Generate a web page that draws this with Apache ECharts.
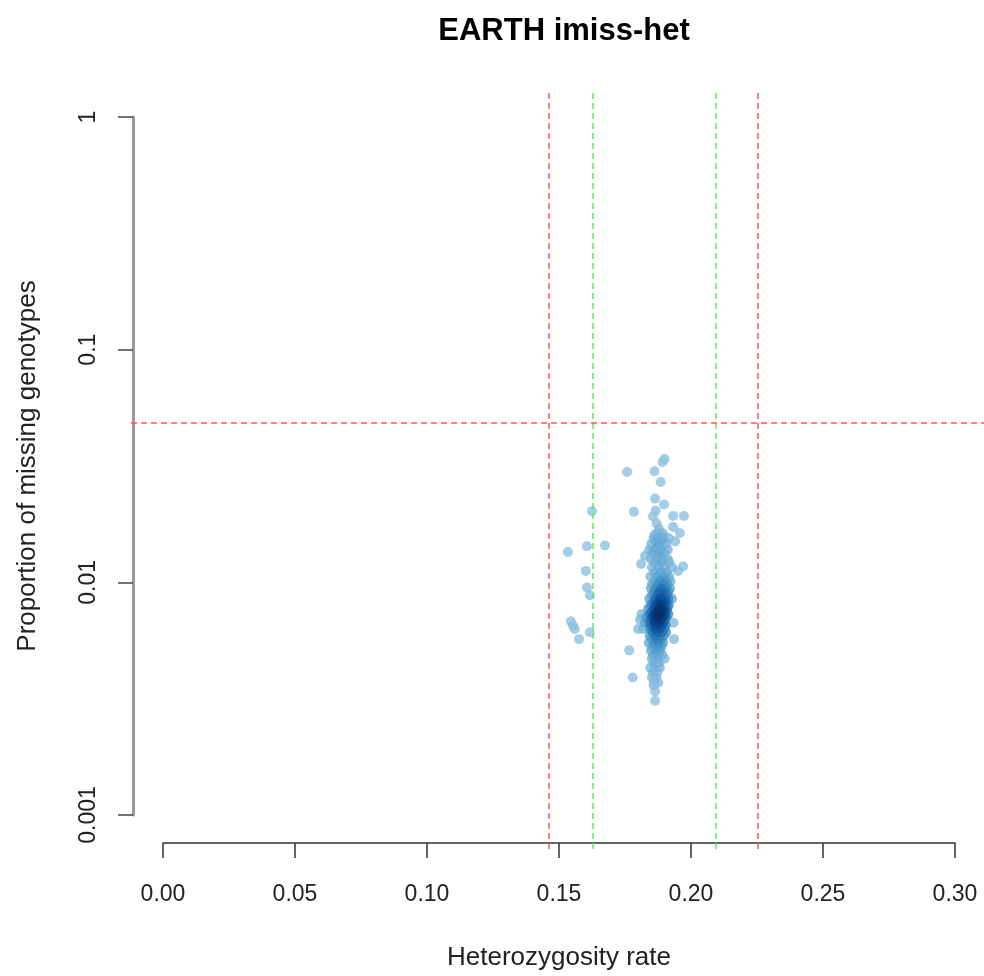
<!DOCTYPE html>
<html><head><meta charset="utf-8">
<script src="https://cdn.jsdelivr.net/npm/echarts@6/dist/echarts.min.js"></script>
<style>html,body{margin:0;padding:0;background:#fff}#c{width:984px;height:976px}</style>
</head><body><div id="c"></div>
<script>
// ---- data ----
const chartTitle = 'EARTH imiss-het';
const xName = 'Heterozygosity rate';
const yName = 'Proportion of missing genotypes';
const xTicks = [0, 0.05, 0.10, 0.15, 0.20, 0.25, 0.30];
const yTicks = [0.001, 0.01, 0.1, 1];
const hetRed = [0.1462, 0.2254];     // red vertical thresholds
const hetGreen = [0.1629, 0.2095];   // green vertical thresholds
const missRed = [0.05];              // red horizontal threshold
// samples: [heterozygosity rate, proportion missing]
const samples = [
 [0.1625,0.0202],[0.1606,0.0143],[0.1674,0.0144],[0.1534,0.0135],[0.1602,0.0112],[0.1606,0.0095],
 [0.1617,0.0088],[0.1545,0.0068],[0.1553,0.0065],[0.1560,0.0063],[0.1576,0.0057],[0.1617,0.0061],
 [0.1758,0.0298],[0.1784,0.0201],[0.1766,0.0051],[0.1779,0.0039],[0.1800,0.0063],[0.1807,0.0069],
 [0.1813,0.0073],[0.1826,0.0130],[0.1811,0.0120],[0.1973,0.0193],[0.1970,0.0117],[0.1951,0.0112],
 [0.1958,0.0163],[0.1933,0.0067],[0.1936,0.0057],
 [0.1900,0.0339],[0.1892,0.0329],[0.1862,0.0300],[0.1885,0.0270],[0.1864,0.0229],[0.1898,0.0216],
 [0.1866,0.0203],[0.1856,0.0192],[0.1932,0.0193],[0.1870,0.0179],[0.1878,0.0170],[0.1932,0.0173],
 [0.1875,0.0163],[0.1894,0.0162],[0.1862,0.0160],
 [0.1858,0.0155],[0.1876,0.0155],[0.1894,0.0155],[0.1915,0.0155],
 [0.1866,0.0150],[0.1888,0.0150],[0.1940,0.0150],
 [0.1850,0.0146],[0.1874,0.0146],[0.1905,0.0146],
 [0.1842,0.0138],[0.1862,0.0138],[0.1884,0.0138],[0.1912,0.0138],
 [0.1856,0.0134],[0.1878,0.0134],[0.1898,0.0134],
 [0.1848,0.0126],[0.1870,0.0126],[0.1892,0.0126],[0.1912,0.0126],
 [0.1862,0.0122],[0.1886,0.0122],[0.1918,0.0122],
 [0.1852,0.0116],[0.1876,0.0116],[0.1898,0.0116],[0.1928,0.0116],
 [0.1862,0.0110],[0.1888,0.0110],[0.1908,0.0110],
 [0.1846,0.0106],[0.1872,0.0106],[0.1896,0.0106],[0.1916,0.0106],
 [0.1862,0.0101],[0.1884,0.0101],[0.1902,0.0101],[0.1922,0.0101],
 [0.1852,0.0098],[0.1876,0.0098],[0.1894,0.0098],[0.1910,0.0098],
 [0.1848,0.0094],[0.1868,0.0094],[0.1888,0.0094],[0.1904,0.0094],[0.1920,0.0094],
 [0.1862,0.0091],[0.1882,0.0091],[0.1898,0.0091],[0.1914,0.0091],
 [0.1852,0.0088],[0.1874,0.0088],[0.1892,0.0088],[0.1908,0.0088],
 [0.1842,0.0085],[0.1866,0.0085],[0.1884,0.0085],[0.1900,0.0085],[0.1914,0.0085],[0.1928,0.0085],
 [0.1858,0.0082],[0.1878,0.0082],[0.1894,0.0082],[0.1908,0.0082],
 [0.1848,0.0080],[0.1868,0.0080],[0.1886,0.0080],[0.1900,0.0080],[0.1916,0.0080],
 [0.1838,0.0077],[0.1860,0.0077],[0.1880,0.0077],[0.1896,0.0077],[0.1910,0.0077],
 [0.1852,0.0075],[0.1872,0.0075],[0.1890,0.0075],[0.1904,0.0075],
 [0.1844,0.0073],[0.1864,0.0073],[0.1882,0.0073],[0.1898,0.0073],[0.1914,0.0073],
 [0.1832,0.0071],[0.1856,0.0071],[0.1874,0.0071],[0.1892,0.0071],[0.1906,0.0071],
 [0.1848,0.0069],[0.1866,0.0069],[0.1884,0.0069],[0.1900,0.0069],
 [0.1826,0.0067],[0.1842,0.0067],[0.1862,0.0067],[0.1880,0.0067],[0.1896,0.0067],
 [0.1852,0.0065],[0.1870,0.0065],[0.1888,0.0065],[0.1904,0.0065],
 [0.1818,0.0063],[0.1846,0.0063],[0.1864,0.0063],[0.1882,0.0063],[0.1898,0.0063],
 [0.1856,0.0061],[0.1874,0.0061],[0.1890,0.0061],[0.1906,0.0061],
 [0.1844,0.0059],[0.1864,0.0059],[0.1882,0.0059],[0.1898,0.0059],
 [0.1852,0.0057],[0.1870,0.0057],[0.1886,0.0057],
 [0.1840,0.0055],[0.1860,0.0055],[0.1878,0.0055],[0.1894,0.0055],
 [0.1854,0.0053],[0.1872,0.0053],[0.1888,0.0053],
 [0.1848,0.0051],[0.1866,0.0051],[0.1882,0.0051],
 [0.1856,0.0049],[0.1874,0.0049],[0.1890,0.0049],
 [0.1852,0.0047],[0.1870,0.0047],[0.1900,0.0047],
 [0.1860,0.0045],[0.1878,0.0045],
 [0.1846,0.0043],[0.1864,0.0043],[0.1882,0.0043],
 [0.1856,0.0041],[0.1872,0.0041],
 [0.1852,0.0039],[0.1868,0.0039],
 [0.1860,0.0037],[0.1876,0.0037],
 [0.1858,0.0036],[0.1864,0.0034],[0.1864,0.0031]
];

// ---- density colouring (like R densCols) ----
const palette = ['#8EC1E0','#6BAED6','#4292C6','#2171B5','#08519C','#08306B'];
function hex2rgb(h){return [1,3,5].map(i=>parseInt(h.substr(i,2),16));}
function ramp(t){
  t=Math.max(0,Math.min(1,t)); const n=palette.length-1; const f=t*n; const i=Math.min(n-1,Math.floor(f)); const u=f-i;
  const a=hex2rgb(palette[i]), b=hex2rgb(palette[i+1]);
  return 'rgb('+a.map((v,k)=>Math.round(v+(b[k]-v)*u)).join(',')+')';
}
const nx = samples.map(p=>p[0]/0.3*792);
const ny = samples.map(p=>Math.log10(p[1])/3*704);
const h = 8;
const dens = samples.map((p,i)=>{let s=0;for(let j=0;j<samples.length;j++){const dx=nx[i]-nx[j],dy=ny[i]-ny[j];s+=Math.exp(-(dx*dx+dy*dy)/(2*h*h));}return s;});
const dmax = Math.max(...dens);
const order = samples.map((_,i)=>i).sort((a,b)=>dens[a]-dens[b]);
const scatterData = order.map(i=>({value:samples[i], itemStyle:{color:ramp(Math.pow(dens[i]/dmax,2.2))}}));

const FONT = "'Liberation Sans', Arial, Helvetica, sans-serif";
const red = '#ff5555', green = '#55ee55';
const dashed = c => ({color:c, type:[6,4], width:1.5, opacity:1});

const chart = echarts.init(document.getElementById('c'), null, {renderer:'canvas'});
chart.setOption({
  animation:false,
  backgroundColor:'#fff',
  title:{text:chartTitle, left:559, top:11, textAlign:'center',
    textStyle:{fontFamily:FONT, fontWeight:'bold', fontSize:31, color:'#000'}},
  grid:[
    {left:163, right:29, top:117, bottom:155},
    {left:131, right:0, top:89, bottom:127}
  ],
  xAxis:[
    {gridIndex:0, type:'value', min:xTicks[0], max:xTicks[xTicks.length-1], interval:0.05, offset:28,
     axisLine:{onZero:false, lineStyle:{color:'#333', width:1.5}},
     axisTick:{length:15, lineStyle:{color:'#333', width:1.5}},
     axisLabel:{margin:40, fontFamily:FONT, fontSize:23, color:'#222', formatter:v=>v.toFixed(2)},
     splitLine:{show:false},
     name:xName, nameLocation:'middle', nameGap:102,
     nameTextStyle:{fontFamily:FONT, fontSize:26, color:'#222'}},
    {gridIndex:1, type:'value', min:-0.01212, max:0.31098, show:false}
  ],
  yAxis:[
    {gridIndex:0, type:'log', logBase:10, min:yTicks[0], max:yTicks[yTicks.length-1], offset:30,
     axisLine:{onZero:false, lineStyle:{color:'#999', width:3}},
     axisTick:{length:15, lineStyle:{color:'#444', width:1.5}},
     axisLabel:{rotate:90, margin:33, fontFamily:FONT, fontSize:23, color:'#222',
       formatter:v=>String(parseFloat(Number(v).toPrecision(3)))},
     splitLine:{show:false},
     name:yName, nameLocation:'middle', nameGap:92,
     nameTextStyle:{fontFamily:FONT, fontSize:26, color:'#222'}},
    {gridIndex:1, type:'log', logBase:10, min:0.00076, max:1.316, show:false}
  ],
  series:[
    {type:'line', xAxisIndex:1, yAxisIndex:1, data:[], silent:true,
     markLine:{silent:true, symbol:'none', precision:5, label:{show:false}, animation:false,
       data:[
         ...hetRed.map(v=>({xAxis:v, lineStyle:dashed(red)})),
         ...hetGreen.map(v=>({xAxis:v, lineStyle:dashed(green)})),
         ...missRed.map(v=>({yAxis:v, lineStyle:dashed(red)}))
       ]}},
    {type:'scatter', xAxisIndex:0, yAxisIndex:0, symbolSize:10, data:scatterData,
     itemStyle:{opacity:0.8}, clip:false}
  ]
});
</script></body></html>
